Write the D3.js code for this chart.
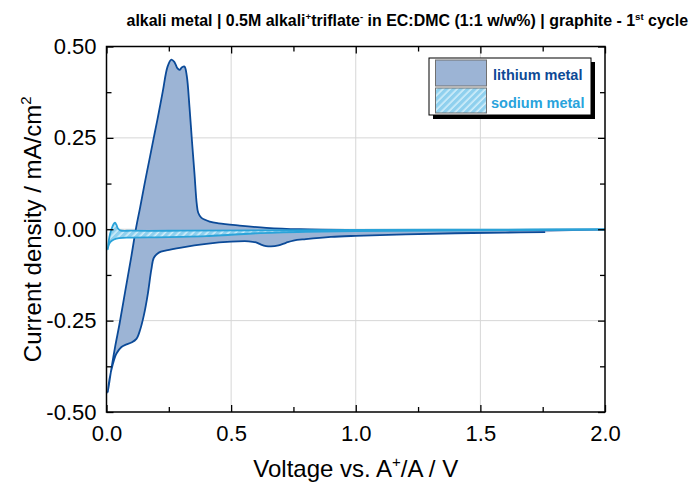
<!DOCTYPE html>
<html><head><meta charset="utf-8">
<script src="https://cdn.jsdelivr.net/npm/d3@7/dist/d3.min.js"></script>
<style>body{margin:0;background:#fff}svg{display:block;font-family:Arial,"Liberation Sans",sans-serif}</style>
</head><body><svg id="c" width="691" height="488"></svg>
<script>
// Lithium metal CV: cathodic scan (OCV -> 0 V) then anodic scan (0 -> 2 V)
const liVoltage = [1.76,1.60,1.40,1.20,1.00,0.90,0.80,0.75,0.72,0.69,0.66,0.64,0.62,0.60,0.57,0.50,0.40,0.30,0.24,0.21,0.19,0.18,0.165,0.15,0.135,0.12,0.10,0.08,0.06,0.04,0.025,0.012,0.005,
  0.02,0.035,0.052,0.075,0.099,0.119,0.135,0.153,0.175,0.193,0.21,0.226,0.245,0.260,0.272,0.285,0.293,0.303,0.313,0.322,0.333,0.343,0.353,0.362,0.368,0.38,0.414,0.45,0.534,0.641,0.775,1.0,1.5,2.0];
const liCurrent = [-0.008,-0.009,-0.011,-0.014,-0.018,-0.021,-0.027,-0.031,-0.037,-0.044,-0.047,-0.046,-0.042,-0.036,-0.033,-0.034,-0.040,-0.050,-0.058,-0.064,-0.078,-0.11,-0.18,-0.235,-0.275,-0.30,-0.31,-0.315,-0.322,-0.34,-0.37,-0.41,-0.447,
  -0.38,-0.32,-0.26,-0.17,-0.077,0.005,0.06,0.125,0.20,0.262,0.32,0.378,0.445,0.464,0.458,0.440,0.436,0.443,0.445,0.42,0.334,0.24,0.152,0.07,0.045,0.032,0.021,0.016,0.010,0.004,0.000,-0.002,-0.002,-0.001];
// Sodium metal CV: cathodic scan (2 V -> 0 V) then anodic scan (0 -> 2 V)
const naVoltage = [2.0,1.5,1.0,0.8,0.6,0.5,0.4,0.3,0.2,0.1,0.05,0.03,0.015,0.008,0.005,
  0.012,0.02,0.028,0.034,0.040,0.046,0.055,0.1,0.3,0.6,1.0,1.5,2.0];
const naCurrent = [-0.001,-0.003,-0.005,-0.007,-0.011,-0.015,-0.019,-0.021,-0.022,-0.023,-0.024,-0.028,-0.035,-0.045,-0.055,
  -0.02,0.0,0.014,0.018,0.012,0.002,-0.003,-0.004,-0.004,-0.003,-0.002,-0.001,0.000];
const xTickValues = [0, 0.5, 1.0, 1.5, 2.0];
const xTickLabels = ["0.0","0.5","1.0","1.5","2.0"];
const yTickValues = [-0.5,-0.25,0,0.25,0.5];
const yTickLabels = ["-0.50","-0.25","0.00","0.25","0.50"];
const seriesNames = ["lithium metal","sodium metal"];

const svg = d3.select("#c");
const L=106.5,R=605,T=46.5,B=412;
const x = d3.scaleLinear([0,2],[L,R]);
const y = d3.scaleLinear([-0.5,0.5],[B,T]);

const defs = svg.append("defs");
const pat = defs.append("pattern").attr("id","hatch").attr("patternUnits","userSpaceOnUse")
  .attr("width",5).attr("height",5).attr("patternTransform","rotate(45)");
pat.append("rect").attr("width",5).attr("height",5).attr("fill","#8fd0ee");
pat.append("line").attr("x1",1.2).attr("y1",0).attr("x2",1.2).attr("y2",5).attr("stroke","#d2eefa").attr("stroke-width",1.6);
defs.append("clipPath").attr("id","clip").append("rect").attr("x",L).attr("y",T).attr("width",R-L).attr("height",B-T);

// grid
const g = svg.append("g");
g.selectAll(".gx").data(xTickValues.filter(v=>v>0&&v<2)).join("line")
  .attr("x1",d=>x(d)).attr("x2",d=>x(d)).attr("y1",T).attr("y2",B).attr("stroke","#d6d6d6").attr("stroke-width",1);
g.selectAll(".gy").data(yTickValues.filter(v=>v>-0.5&&v<0.5)).join("line")
  .attr("y1",d=>y(d)).attr("y2",d=>y(d)).attr("x1",L).attr("x2",R).attr("stroke","#d6d6d6").attr("stroke-width",1);

const line = d3.line().x(d=>x(d[0])).y(d=>y(d[1])).curve(d3.curveCatmullRom.alpha(0.5));
const li = liVoltage.map((v,i)=>[v,liCurrent[i]]);
const na = naVoltage.map((v,i)=>[v,naCurrent[i]]);
const plot = svg.append("g").attr("clip-path","url(#clip)");
plot.append("path").attr("d",line(li)+"Z").attr("fill","#9cb4d5").attr("stroke","none");
plot.append("path").attr("d",line(li)).attr("fill","none").attr("stroke","#0b4a98").attr("stroke-width",1.8);
plot.append("path").attr("d",line(na)+"Z").attr("fill","url(#hatch)").attr("stroke","none");
plot.append("path").attr("d",line(na)).attr("fill","none").attr("stroke","#2aa3d9").attr("stroke-width",1.8);

// axes
const fmtX = d=>xTickLabels[xTickValues.indexOf(d)];
const fmtY = d=>yTickLabels[yTickValues.indexOf(d)];
const minorX = d3.range(0,2.001,0.25).filter(v=>!xTickValues.includes(v));
const minorY = d3.range(-0.5,0.501,0.125).filter(v=>!yTickValues.some(t=>Math.abs(t-v)<1e-9));
function styleAx(sel){sel.select(".domain").remove();sel.selectAll("line").attr("stroke","#000").attr("stroke-width",1.3);
  sel.selectAll("text").attr("font-size",22).attr("fill","#000").attr("font-family","Arial, 'Liberation Sans', sans-serif");}
svg.append("g").attr("transform",`translate(0,${B})`).call(d3.axisBottom(x).tickValues(xTickValues).tickFormat(fmtX).tickSizeInner(-7).tickSizeOuter(0).tickPadding(13)).call(styleAx);
svg.append("g").attr("transform",`translate(0,${B})`).call(d3.axisBottom(x).tickValues(minorX).tickFormat("").tickSizeInner(-5).tickSizeOuter(0)).call(styleAx);
svg.append("g").attr("transform",`translate(0,${T})`).call(d3.axisTop(x).tickValues(xTickValues).tickFormat("").tickSizeInner(-7).tickSizeOuter(0)).call(styleAx);
svg.append("g").attr("transform",`translate(0,${T})`).call(d3.axisTop(x).tickValues(minorX).tickFormat("").tickSizeInner(-5).tickSizeOuter(0)).call(styleAx);
svg.append("g").attr("transform",`translate(${L},0)`).call(d3.axisLeft(y).tickValues(yTickValues).tickFormat(fmtY).tickSizeInner(-7).tickSizeOuter(0).tickPadding(10)).call(styleAx);
svg.append("g").attr("transform",`translate(${L},0)`).call(d3.axisLeft(y).tickValues(minorY).tickFormat("").tickSizeInner(-5).tickSizeOuter(0)).call(styleAx);
svg.append("g").attr("transform",`translate(${R},0)`).call(d3.axisRight(y).tickValues(yTickValues).tickFormat("").tickSizeInner(-7).tickSizeOuter(0)).call(styleAx);
svg.append("g").attr("transform",`translate(${R},0)`).call(d3.axisRight(y).tickValues(minorY).tickFormat("").tickSizeInner(-5).tickSizeOuter(0)).call(styleAx);
svg.append("rect").attr("x",L).attr("y",T).attr("width",R-L).attr("height",B-T).attr("fill","none").attr("stroke","#000").attr("stroke-width",1.5);

// axis titles
const xt = svg.append("text").attr("x",(L+R)/2).attr("y",477).attr("text-anchor","middle").attr("font-size",24);
xt.append("tspan").text("Voltage vs. A");
xt.append("tspan").attr("font-size",15).attr("dy",-10).text("+");
xt.append("tspan").attr("dy",10).text("/A / V");
const yt = svg.append("text").attr("transform",`translate(41,${(T+B)/2}) rotate(-90)`).attr("text-anchor","middle").attr("font-size",24);
yt.append("tspan").text("Current density / mA/cm");
yt.append("tspan").attr("font-size",15).attr("dy",-10).text("2");

// title
const tt = svg.append("text").attr("x",688).attr("y",26).attr("text-anchor","end").attr("font-size",15.95).attr("font-weight","bold");
tt.append("tspan").text("alkali metal | 0.5M alkali");
tt.append("tspan").attr("font-size",9.7).attr("dy",-6).text("+");
tt.append("tspan").attr("dy",6).text("triflate");
tt.append("tspan").attr("font-size",9.7).attr("dy",-6).text("-");
tt.append("tspan").attr("dy",6).text(" in EC:DMC (1:1 w/w%) | graphite - 1");
tt.append("tspan").attr("font-size",9.7).attr("dy",-6).text("st");
tt.append("tspan").attr("dy",6).text(" cycle");

// legend
const lg = svg.append("g");
lg.append("rect").attr("x",433).attr("y",62).attr("width",162).attr("height",57).attr("fill","#000");
lg.append("rect").attr("x",429).attr("y",58).attr("width",162).attr("height",57).attr("fill","#fff").attr("stroke","#000").attr("stroke-width",1);
lg.append("rect").attr("x",435.5).attr("y",60).attr("width",51).attr("height",26).attr("fill","#9cb4d5").attr("stroke","#707070");
lg.append("rect").attr("x",435.5).attr("y",88).attr("width",51).attr("height",25).attr("fill","url(#hatch)").attr("stroke","#707070");
lg.append("text").attr("x",493).attr("y",80).attr("font-size",14.5).attr("font-weight","bold").attr("fill","#0d4a96").text(seriesNames[0]);
lg.append("text").attr("x",491).attr("y",108).attr("font-size",14.5).attr("font-weight","bold").attr("fill","#29a3dc").text(seriesNames[1]);
</script></body></html>
